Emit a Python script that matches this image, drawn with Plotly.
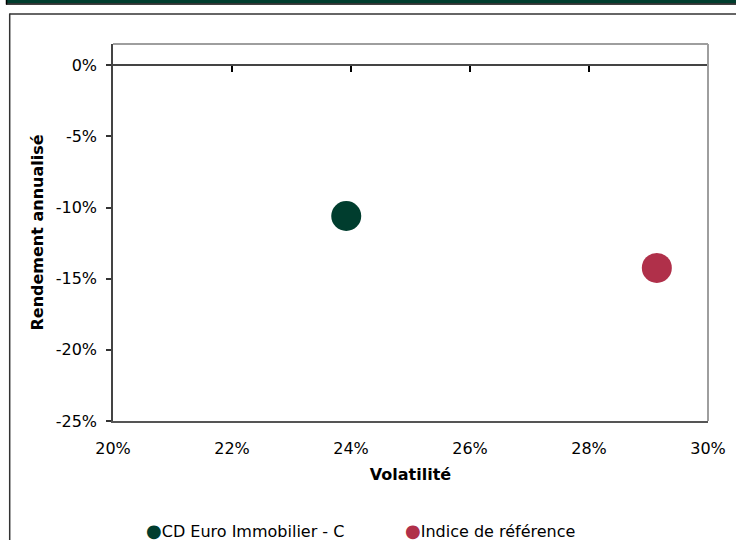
import plotly.graph_objects as go

# Risk / return of the fund and its benchmark
series_names = ["CD Euro Immobilier - C", "Indice de référence"]
volatility = [0.2392, 0.2914]
annual_return = [-0.1059, -0.1424]
series_colors = ["#003D2E", "#B0304A"]

x_ticks = [0.20, 0.22, 0.24, 0.26, 0.28, 0.30]
x_tick_labels = ["20%", "22%", "24%", "26%", "28%", "30%"]
y_ticks = [0.0, -0.05, -0.10, -0.15, -0.20, -0.25]
y_tick_labels = ["0%", "-5%", "-10%", "-15%", "-20%", "-25%"]

X_RANGE = [0.20, 0.30]
Y_RANGE = [-0.25, 0.015]

W, H = 736, 540
ML, MR, MT, MB = 113, 28, 44, 119
PW, PH = W - ML - MR, H - MT - MB

FONT = "DejaVu Sans"
GREEN = "#003D2E"

# left edge (px) of each legend entry along the bottom row
legend_left_px = [145, 404]
LEGEND_Y_PX = 530


def px_x(p):
    return (p - ML) / PW


def px_y(p):
    return (H - MB - p) / PH


fig = go.Figure()
for name, x, y, c in zip(series_names, volatility, annual_return, series_colors):
    fig.add_trace(go.Scatter(
        x=[x], y=[y], mode="markers", name=name,
        marker=dict(size=30, color=c, line=dict(width=0)),
        hoverinfo="skip", showlegend=False,
    ))

# empty trace carrying the x axis that crosses at 0%
fig.add_trace(go.Scatter(x=[], y=[], xaxis="x2", yaxis="y", showlegend=False, hoverinfo="skip"))

zero_pos = (0 - Y_RANGE[0]) / (Y_RANGE[1] - Y_RANGE[0])

shapes = [
    # banner at the top of the page
    dict(type="rect", xref="paper", yref="paper", x0=px_x(7), x1=px_x(760),
         y0=px_y(-5), y1=px_y(3.2), fillcolor=GREEN, line=dict(width=0), layer="below"),
    dict(type="line", xref="paper", yref="paper", x0=px_x(6), x1=px_x(760),
         y0=px_y(4), y1=px_y(4), line=dict(color="#000000", width=1.5)),
    dict(type="line", xref="paper", yref="paper", x0=px_x(6.5), x1=px_x(6.5),
         y0=px_y(-2), y1=px_y(4.5), line=dict(color="#000000", width=1.5)),
    # outer frame
    dict(type="line", xref="paper", yref="paper", x0=px_x(9.5), x1=px_x(760),
         y0=px_y(14), y1=px_y(14), line=dict(color="#333333", width=1.5)),
    dict(type="line", xref="paper", yref="paper", x0=px_x(9.7), x1=px_x(9.7),
         y0=px_y(13.5), y1=px_y(560), line=dict(color="#333333", width=1.5)),
    # plot area border (top and right)
    dict(type="line", xref="paper", yref="paper", x0=0, x1=1, y0=1, y1=1,
         line=dict(color="#9E9E9E", width=2)),
    dict(type="line", xref="paper", yref="paper", x0=1, x1=1, y0=0, y1=1,
         line=dict(color="#9E9E9E", width=2)),
]

# legend row: coloured bullet followed by the series name
annotations = []
for name, c, left in zip(series_names, series_colors, legend_left_px):
    annotations.append(dict(
        xref="paper", yref="paper", x=px_x(left), y=px_y(LEGEND_Y_PX),
        xanchor="left", yanchor="middle", showarrow=False, borderpad=0,
        text=f'<span style="color:{c};font-size:18px">●</span>{name}',
        font=dict(size=16, color="#000000"),
    ))

fig.update_layout(
    width=W, height=H,
    margin=dict(l=ML, r=MR, t=MT, b=MB, autoexpand=False),
    paper_bgcolor="white", plot_bgcolor="white",
    font=dict(family=FONT, size=16, color="#000000"),
    shapes=shapes,
    annotations=annotations,
    xaxis=dict(
        range=X_RANGE, tickvals=x_ticks, ticktext=x_tick_labels,
        showgrid=False, zeroline=False, ticks="", ticklabelstandoff=12,
        showline=True, linecolor="#555555", linewidth=1.5,
        title=dict(text="<b>Volatilité</b>", font=dict(size=16), standoff=12),
        fixedrange=True, automargin=False,
    ),
    xaxis2=dict(
        range=X_RANGE, tickvals=x_ticks, overlaying="x", anchor="free",
        position=zero_pos, side="top", ticks="inside", ticklen=6, tickwidth=1.5,
        tickcolor="#000000", showticklabels=False, showline=True,
        linecolor="#444444", linewidth=1.7, showgrid=False, zeroline=False,
    ),
    yaxis=dict(
        range=Y_RANGE, tickvals=y_ticks, ticktext=y_tick_labels,
        showgrid=False, zeroline=False, ticks="outside", ticklen=5, tickwidth=1.5,
        tickcolor="#333333", ticklabelstandoff=6,
        showline=True, linecolor="#444444", linewidth=1.5,
        title=dict(text="<b>Rendement annualisé</b>", font=dict(size=16), standoff=8),
        fixedrange=True, automargin=False,
    ),
    showlegend=False,
)

fig.write_html("out.html")
